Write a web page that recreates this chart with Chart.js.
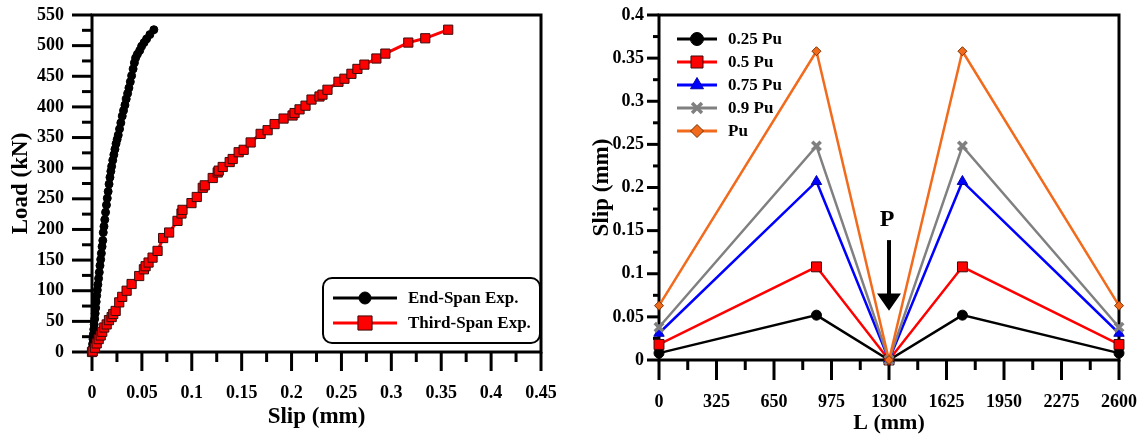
<!DOCTYPE html>
<html>
<head>
<meta charset="utf-8">
<script src="https://cdn.jsdelivr.net/npm/chart.js@4"></script>
<style>
  html, body { margin: 0; padding: 0; background: #fff; }
  body { width: 1141px; height: 437px; position: relative; overflow: hidden; }
  #left { position: absolute; left: 0; top: 0; }
  #right { position: absolute; left: 571px; top: 0; }
</style>
</head>
<body>
<canvas id="left" width="570" height="437"></canvas>
<canvas id="right" width="570" height="437"></canvas>
<script>
// ================= DATA =================
// left panel: load vs slip
const endSlip = [0, 0.0003, 0.0006, 0.001, 0.0014, 0.0018, 0.0022, 0.0027, 0.0032, 0.0037,
  0.0042, 0.0047, 0.0053, 0.0059, 0.0066, 0.0073, 0.008, 0.0087, 0.0094, 0.0101,
  0.0108, 0.0113, 0.012, 0.0128, 0.0136, 0.0145, 0.0153, 0.0162, 0.0171, 0.018,
  0.0189, 0.0197, 0.0208, 0.0219, 0.023, 0.0241, 0.0252, 0.0263, 0.0276, 0.0289,
  0.0303, 0.0316, 0.033, 0.0343, 0.0357, 0.037, 0.0384, 0.0397, 0.0412, 0.0425,
  0.0437, 0.0455, 0.0478, 0.0497, 0.0522, 0.0547, 0.058, 0.062];
const endLoad = [0, 6, 13, 21, 29, 37, 45, 54, 63, 72,
  82, 92, 101, 110, 120, 130, 141, 151, 161, 172,
  182, 195, 205, 216, 228, 240, 251, 262, 274, 285,
  295, 303, 313, 322, 331, 340, 347, 354, 364, 374,
  385, 394, 403, 413, 422, 431, 441, 451, 462, 472,
  480, 486, 492, 499, 505, 511, 518, 526];
const thirdSlip = [0, 0.0007, 0.003, 0.0047, 0.0067, 0.0087, 0.0103, 0.0123, 0.0147, 0.017,
  0.0197, 0.0213, 0.0237, 0.0273, 0.0303, 0.0347, 0.0397, 0.0473, 0.052, 0.0537,
  0.0567, 0.0607, 0.0657, 0.0713, 0.0773, 0.0857, 0.0897, 0.0907, 0.0997, 0.105,
  0.111, 0.113, 0.121, 0.126, 0.127, 0.131, 0.138, 0.141, 0.147, 0.152,
  0.159, 0.169, 0.176, 0.183, 0.192, 0.201, 0.203, 0.208, 0.214, 0.22,
  0.228, 0.231, 0.236, 0.247, 0.253, 0.26, 0.266, 0.273, 0.285, 0.294,
  0.317, 0.334, 0.357];
const thirdLoad = [0, 1, 7, 14, 21, 27, 33, 40, 45, 52,
  57, 62, 67, 81, 90, 100, 111, 124, 135, 140,
  146, 154, 165, 186, 195, 214, 226, 232, 243, 253,
  268, 272, 284, 293, 296, 302, 310, 315, 326, 330,
  342, 356, 362, 372, 381, 386, 390, 396, 402, 412,
  417, 420, 428, 441, 446, 454, 462, 469, 479, 487,
  505, 512, 526];

// right panel: slip along the beam
const spanL = [0, 890, 1300, 1715, 2600];
const slip025 = [0.008, 0.052, 0, 0.052, 0.008];
const slip05 = [0.018, 0.108, 0, 0.108, 0.018];
const slip075 = [0.031, 0.207, 0, 0.207, 0.031];
const slip09 = [0.038, 0.248, 0, 0.248, 0.038];
const slipPu = [0.063, 0.358, 0, 0.358, 0.063];
const stageLabels = ["0.25 Pu", "0.5 Pu", "0.75 Pu", "0.9 Pu", "Pu"];

// load arrow at mid span (data units)
const loadAt = 1300;
const loadText = "P";
const loadTextY = 0.162, shaftTopY = 0.139, headTopY = 0.077, tipY = 0.057;

// ================= HELPERS =================
const FONT = "'Liberation Serif', 'Times New Roman', serif";
const tickFont = { family: FONT, size: 18, weight: "bold" };
const fmt = v => String(parseFloat(Number(v).toFixed(4)));
const pts = (xs, ys) => xs.map((x, i) => ({ x, y: ys[i] }));

function marker(ctx, style, r, fill, stroke, bw, x, y) {
  ctx.save();
  ctx.fillStyle = fill;
  ctx.strokeStyle = stroke;
  ctx.lineWidth = bw;
  Chart.helpers.drawPoint(ctx, { pointStyle: style, radius: r, borderWidth: bw, rotation: 0 }, x, y);
  ctx.restore();
}

// frame + major/minor ticks
const frameTicks = {
  id: "frameTicks",
  beforeDatasetsDraw(chart, args, opts) {
    const { ctx, chartArea: a } = chart;
    ctx.save();
    ctx.strokeStyle = "#000";
    ctx.lineWidth = 3;
    ctx.strokeRect(a.left, a.top, a.right - a.left, a.bottom - a.top);
    const tick = (id, v, len) => {
      const s = chart.scales[id];
      const p = s.getPixelForValue(v);
      ctx.beginPath();
      if (id === "x") { ctx.moveTo(p, a.bottom); ctx.lineTo(p, a.bottom + len); }
      else { ctx.moveTo(a.left - len, p); ctx.lineTo(a.left, p); }
      ctx.stroke();
    };
    ["x", "y"].forEach(id => {
      const vals = chart.scales[id].ticks.map(t => t.value);
      vals.forEach((v, i) => {
        tick(id, v, opts[id][0]);
        if (i < vals.length - 1) tick(id, (v + vals[i + 1]) / 2, opts[id][1]);
      });
    });
    ctx.restore();
  }
};

// legend drawn with line through marker
const lineLegend = {
  id: "lineLegend",
  afterDraw(chart, args, o) {
    const { ctx, chartArea: a } = chart;
    ctx.save();
    let x0, y0;
    if (o.box) {
      const bx = a.right - o.box.w - 1, by = a.bottom - o.box.h - 9;
      ctx.lineWidth = 2;
      ctx.strokeStyle = "#000";
      ctx.beginPath();
      ctx.roundRect(bx, by, o.box.w, o.box.h, 9);
      ctx.stroke();
      x0 = bx + o.lineStart;
      y0 = by + o.firstRow;
    } else {
      x0 = a.left + o.lineStart;
      y0 = a.top + o.firstRow;
    }
    chart.data.datasets.forEach((ds, i) => {
      const y = y0 + i * o.rowGap;
      ctx.strokeStyle = ds.borderColor;
      ctx.lineWidth = 3;
      ctx.beginPath();
      ctx.moveTo(x0, y);
      ctx.lineTo(x0 + o.lineLen, y);
      ctx.stroke();
      marker(ctx, ds.pointStyle, o.radii[i], ds.pointBackgroundColor, ds.pointBorderColor,
        ds.pointBorderWidth, x0 + o.lineLen / 2, y);
      ctx.fillStyle = "#000";
      ctx.font = "bold 17px " + FONT;
      ctx.textBaseline = "middle";
      ctx.fillText(ds.label, x0 + o.lineLen + o.textGap, y + 1);
    });
    ctx.restore();
  }
};

// load arrow
const loadArrow = {
  id: "loadArrow",
  afterDraw(chart) {
    const { ctx, scales: { x, y } } = chart;
    const px = x.getPixelForValue(loadAt);
    ctx.save();
    ctx.fillStyle = "#000";
    ctx.font = "bold 24px " + FONT;
    ctx.textAlign = "center";
    ctx.textBaseline = "middle";
    ctx.fillText(loadText, px - 2, y.getPixelForValue(loadTextY));
    ctx.fillRect(px - 2, y.getPixelForValue(shaftTopY), 4, y.getPixelForValue(headTopY) - y.getPixelForValue(shaftTopY) + 1);
    ctx.beginPath();
    ctx.moveTo(px - 12, y.getPixelForValue(headTopY));
    ctx.lineTo(px + 12, y.getPixelForValue(headTopY));
    ctx.lineTo(px, y.getPixelForValue(tipY));
    ctx.closePath();
    ctx.fill();
    ctx.restore();
  }
};

function axis(min, max, step, pad, title, titleSize, titlePad, size, isX) {
  return {
    type: "linear",
    min, max,
    ticks: { stepSize: step, padding: pad, color: "#000", font: tickFont, callback: fmt,
      maxRotation: 0, autoSkip: false },
    grid: { display: false, drawTicks: false, tickLength: 0 },
    border: { display: false },
    title: { display: true, text: title, color: "#000",
      font: { family: FONT, size: titleSize, weight: "bold" }, padding: titlePad },
    afterFit: s => {
      if (isX) { s.height = size; s.paddingLeft = 0; s.paddingRight = 0; }
      else { s.width = size; s.paddingTop = 0; s.paddingBottom = 0; }
    }
  };
}

// ================= LEFT CHART =================
new Chart(document.getElementById("left"), {
  type: "line",
  data: {
    datasets: [
      { label: "End-Span Exp.", data: pts(endSlip, endLoad), borderColor: "#000", borderWidth: 2.5,
        pointStyle: "circle", pointRadius: 4, pointBackgroundColor: "#000", pointBorderColor: "#000",
        pointBorderWidth: 1, order: 2, clip: false },
      { label: "Third-Span Exp.", data: pts(thirdSlip, thirdLoad), borderColor: "#ff0000", borderWidth: 3,
        pointStyle: "rect", pointRadius: 6.5, pointBackgroundColor: "#ff0000", pointBorderColor: "#3a0a0a",
        pointBorderWidth: 1, order: 1, clip: false }
    ]
  },
  options: {
    responsive: false,
    animation: false,
    layout: { padding: { top: 15, right: 29, left: 0, bottom: 0 } },
    plugins: {
      legend: { display: false },
      tooltip: { enabled: false },
      frameTicks: { x: [19, 10], y: [20, 10] },
      lineLegend: { box: { w: 217, h: 65 }, lineStart: 10, firstRow: 20, rowGap: 25,
        lineLen: 64, textGap: 11, radii: [6, 10] }
    },
    scales: {
      x: axis(0, 0.45, 0.05, 31, "Slip (mm)", 23, { top: 0, bottom: 6 }, 85, true),
      y: axis(0, 550, 50, 28, "Load (kN)", 23, { top: 7, bottom: 0 }, 92, false)
    }
  },
  plugins: [frameTicks, lineLegend]
});

// ================= RIGHT CHART =================
const stageStyle = [
  { color: "#000", style: "circle", r: 5, fill: "#000", edge: "#000", bw: 1 },
  { color: "#ff0000", style: "rect", r: 7, fill: "#ff0000", edge: "#3a0a0a", bw: 1 },
  { color: "#0000ff", style: "triangle", r: 6, fill: "#0000ff", edge: "#0000aa", bw: 1 },
  { color: "#808080", style: "crossRot", r: 6, fill: "#808080", edge: "#808080", bw: 3.5 },
  { color: "#f26b1d", style: "rectRot", r: 4.5, fill: "#f26b1d", edge: "#7a3000", bw: 1 }
];
const stageData = [slip025, slip05, slip075, slip09, slipPu];

new Chart(document.getElementById("right"), {
  type: "line",
  data: {
    datasets: stageData.map((d, i) => ({
      label: stageLabels[i], data: pts(spanL, d), borderColor: stageStyle[i].color, borderWidth: 2.5,
      pointStyle: stageStyle[i].style, pointRadius: stageStyle[i].r,
      pointBackgroundColor: stageStyle[i].fill, pointBorderColor: stageStyle[i].edge,
      pointBorderWidth: stageStyle[i].bw, order: 5 - i, clip: false
    }))
  },
  options: {
    responsive: false,
    animation: false,
    layout: { padding: { top: 15, right: 22, left: 0, bottom: 0 } },
    plugins: {
      legend: { display: false },
      tooltip: { enabled: false },
      frameTicks: { x: [20, 10], y: [12, 6] },
      lineLegend: { lineStart: 18, firstRow: 24, rowGap: 23, lineLen: 40, textGap: 11,
        radii: [6.5, 8.5, 7.5, 7, 6.5] }
    },
    scales: {
      x: axis(0, 2600, 325, 32, "L (mm)", 22, { top: 0, bottom: 0 }, 77, true),
      y: axis(0, 0.4, 0.05, 15, "Slip (mm)", 23, { top: 17, bottom: 0 }, 88, false)
    }
  },
  plugins: [frameTicks, lineLegend, loadArrow]
});
</script>
</body>
</html>
